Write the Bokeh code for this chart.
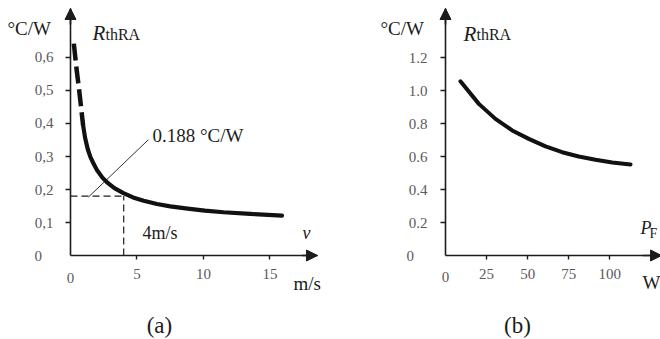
from bokeh.plotting import figure
from bokeh.layouts import row
from bokeh.models import Range1d, FixedTicker, Label, Arrow, NormalHead, CustomJSTickFormatter
from bokeh.embed import file_html
from bokeh.resources import INLINE

# ---- data (a): R_thRA vs air velocity v (m/s)
v_dash = [0.25, 0.45, 0.68, 0.82, 0.95]
r_dash = [0.642, 0.567, 0.491, 0.440, 0.394]
v_solid = [0.95, 1.1, 1.3, 1.5, 1.75, 2.0, 2.4, 2.8, 3.3, 3.98, 4.7, 5.5,
           6.5, 7.5, 8.8, 10.1, 11.5, 13.5, 15.9]
r_solid = [0.394, 0.356, 0.322, 0.298, 0.277, 0.258, 0.236, 0.220, 0.204, 0.189,
           0.176, 0.166, 0.156, 0.149, 0.142, 0.136, 0.131, 0.126, 0.121]
a_xticks = [5, 10, 15]
a_yticks = [0.1, 0.2, 0.3, 0.4, 0.5, 0.6]
mark_v = 4
mark_r = 0.18
leader_v = [1.35, 5.86]
leader_r = [0.177, 0.351]

# ---- data (b): R_thRA vs power P_F (W)
p_b = [9.1, 20.3, 30.4, 40.6, 50.7, 60.9, 71.0, 81.1, 91.3, 101.5, 112.6]
r_b = [1.056, 0.919, 0.828, 0.758, 0.707, 0.661, 0.626, 0.600, 0.580, 0.564, 0.552]
b_xticks = [25, 50, 75, 100]
b_yticks = [0.2, 0.4, 0.6, 0.8, 1.0, 1.2]

SERIF = "Liberation Serif"
INK = "#1c1c1c"
GRAY = "#5a5a5a"


def base(xr, yr, xbounds, ybounds):
    p = figure(width=330, height=339, x_range=xr, y_range=yr,
               output_backend="svg", toolbar_location=None,
               min_border_left=0, min_border_right=0,
               min_border_top=0, min_border_bottom=0)
    p.outline_line_color = None
    p.grid.visible = False
    p.background_fill_color = "white"
    p.border_fill_color = "white"
    for ax in (p.xaxis[0], p.yaxis[0]):
        ax.fixed_location = 0
        ax.axis_line_color = INK
        ax.axis_line_width = 1.6
        ax.major_tick_line_color = INK
        ax.major_tick_line_width = 1.4
        ax.minor_tick_line_color = None
        ax.major_tick_in = 0
        ax.major_label_text_font = SERIF
        ax.major_label_text_font_size = "15px"
        ax.major_label_text_color = GRAY
    p.xaxis.bounds = xbounds
    p.yaxis.bounds = ybounds
    p.xaxis.major_tick_out = 4
    p.yaxis.major_tick_out = 5
    p.xaxis.major_label_standoff = 9
    return p


def lab(p, x, y, text, size, align="left", baseline="middle", color=INK, style="normal"):
    p.add_layout(Label(x=x, y=y, text=text, text_font=SERIF, text_font_size=size,
                       text_align=align, text_baseline=baseline, text_color=color,
                       text_font_style=style))


def axis_arrows(p, x0, x1, y0, y1):
    p.add_layout(Arrow(x_start=x0, y_start=0, x_end=x1, y_end=0, line_color=INK, line_width=1.6,
                       end=NormalHead(size=11, fill_color=INK, line_color=INK)))
    p.add_layout(Arrow(x_start=0, y_start=y0, x_end=0, y_end=y1, line_color=INK, line_width=1.6,
                       end=NormalHead(size=11, fill_color=INK, line_color=INK)))


# ---------------- panel (a)
pa = base(Range1d(-5.263, 19.549), Range1d(-0.2545, 0.7727), (0, 18.57), (0, 0.7485))
pa.xaxis.ticker = FixedTicker(ticks=a_xticks)
pa.yaxis.ticker = FixedTicker(ticks=a_yticks)
pa.yaxis.formatter = CustomJSTickFormatter(code="return tick.toFixed(1).replace('.', ',');")
pa.yaxis.major_label_standoff = 12
axis_arrows(pa, 17.4, 18.57, 0.70, 0.7485)

pa.line([0, mark_v], [mark_r, mark_r], line_color=INK, line_width=1.2, line_dash="7 4")
pa.line([mark_v, mark_v], [0, mark_r], line_color=INK, line_width=1.2, line_dash="7 4")
pa.line(leader_v, leader_r, line_color=INK, line_width=0.9)
pa.line(v_dash, r_dash, line_color="#111111", line_width=4.5, line_dash="17 6")
pa.line(v_solid, r_solid, line_color="#111111", line_width=4.2, line_cap="round", line_join="round")

lab(pa, -4.737, 0.688, "°C/W", "19px")
lab(pa, 1.654, 0.673, "R", "21px", baseline="alphabetic", style="italic")
lab(pa, 2.632, 0.670, "thRA", "16px", baseline="alphabetic")
lab(pa, 6.165, 0.364, "0.188 °C/W", "19px")
lab(pa, 5.41, 0.0667, "4m/s", "18px")
lab(pa, 17.44, 0.0667, "v", "18px", style="italic")
lab(pa, 16.77, -0.0848, "m/s", "19px")
lab(pa, 6.69, -0.212, "(a)", "23px", align="center")
lab(pa, -2.7, 0, "0", "15px", color=GRAY)
lab(pa, 0, -0.0667, "0", "15px", align="center", color=GRAY)

# ---------------- panel (b)
pb = base(Range1d(-69.99, 130.86), Range1d(-0.509, 1.5455), (0, 131.5), (0, 1.497))
pb.xaxis.ticker = FixedTicker(ticks=b_xticks)
pb.yaxis.ticker = FixedTicker(ticks=b_yticks)
pb.yaxis.formatter = CustomJSTickFormatter(code="return tick.toFixed(1);")
pb.yaxis.major_label_standoff = 13
axis_arrows(pb, 120.0, 131.5, 1.40, 1.497)

pb.line(p_b, r_b, line_color="#111111", line_width=4.0, line_cap="round", line_join="round")

lab(pb, -39.6, 1.376, "°C/W", "19px")
lab(pb, 10.96, 1.345, "R", "21px", baseline="alphabetic", style="italic")
lab(pb, 18.87, 1.339, "thRA", "16px", baseline="alphabetic")
lab(pb, 118.7, 0.164, "P", "18px", style="italic")
lab(pb, 124.2, 0.133, "F", "14px")
lab(pb, 119.9, -0.164, "W", "19px")
lab(pb, 43.8, -0.424, "(b)", "23px", align="center")
lab(pb, -23.7, 0, "0", "15px", color=GRAY)
lab(pb, 0, -0.133, "0", "15px", align="center", color=GRAY)

layout = row(pa, pb)
open("out.html", "w").write(file_html(layout, INLINE))
